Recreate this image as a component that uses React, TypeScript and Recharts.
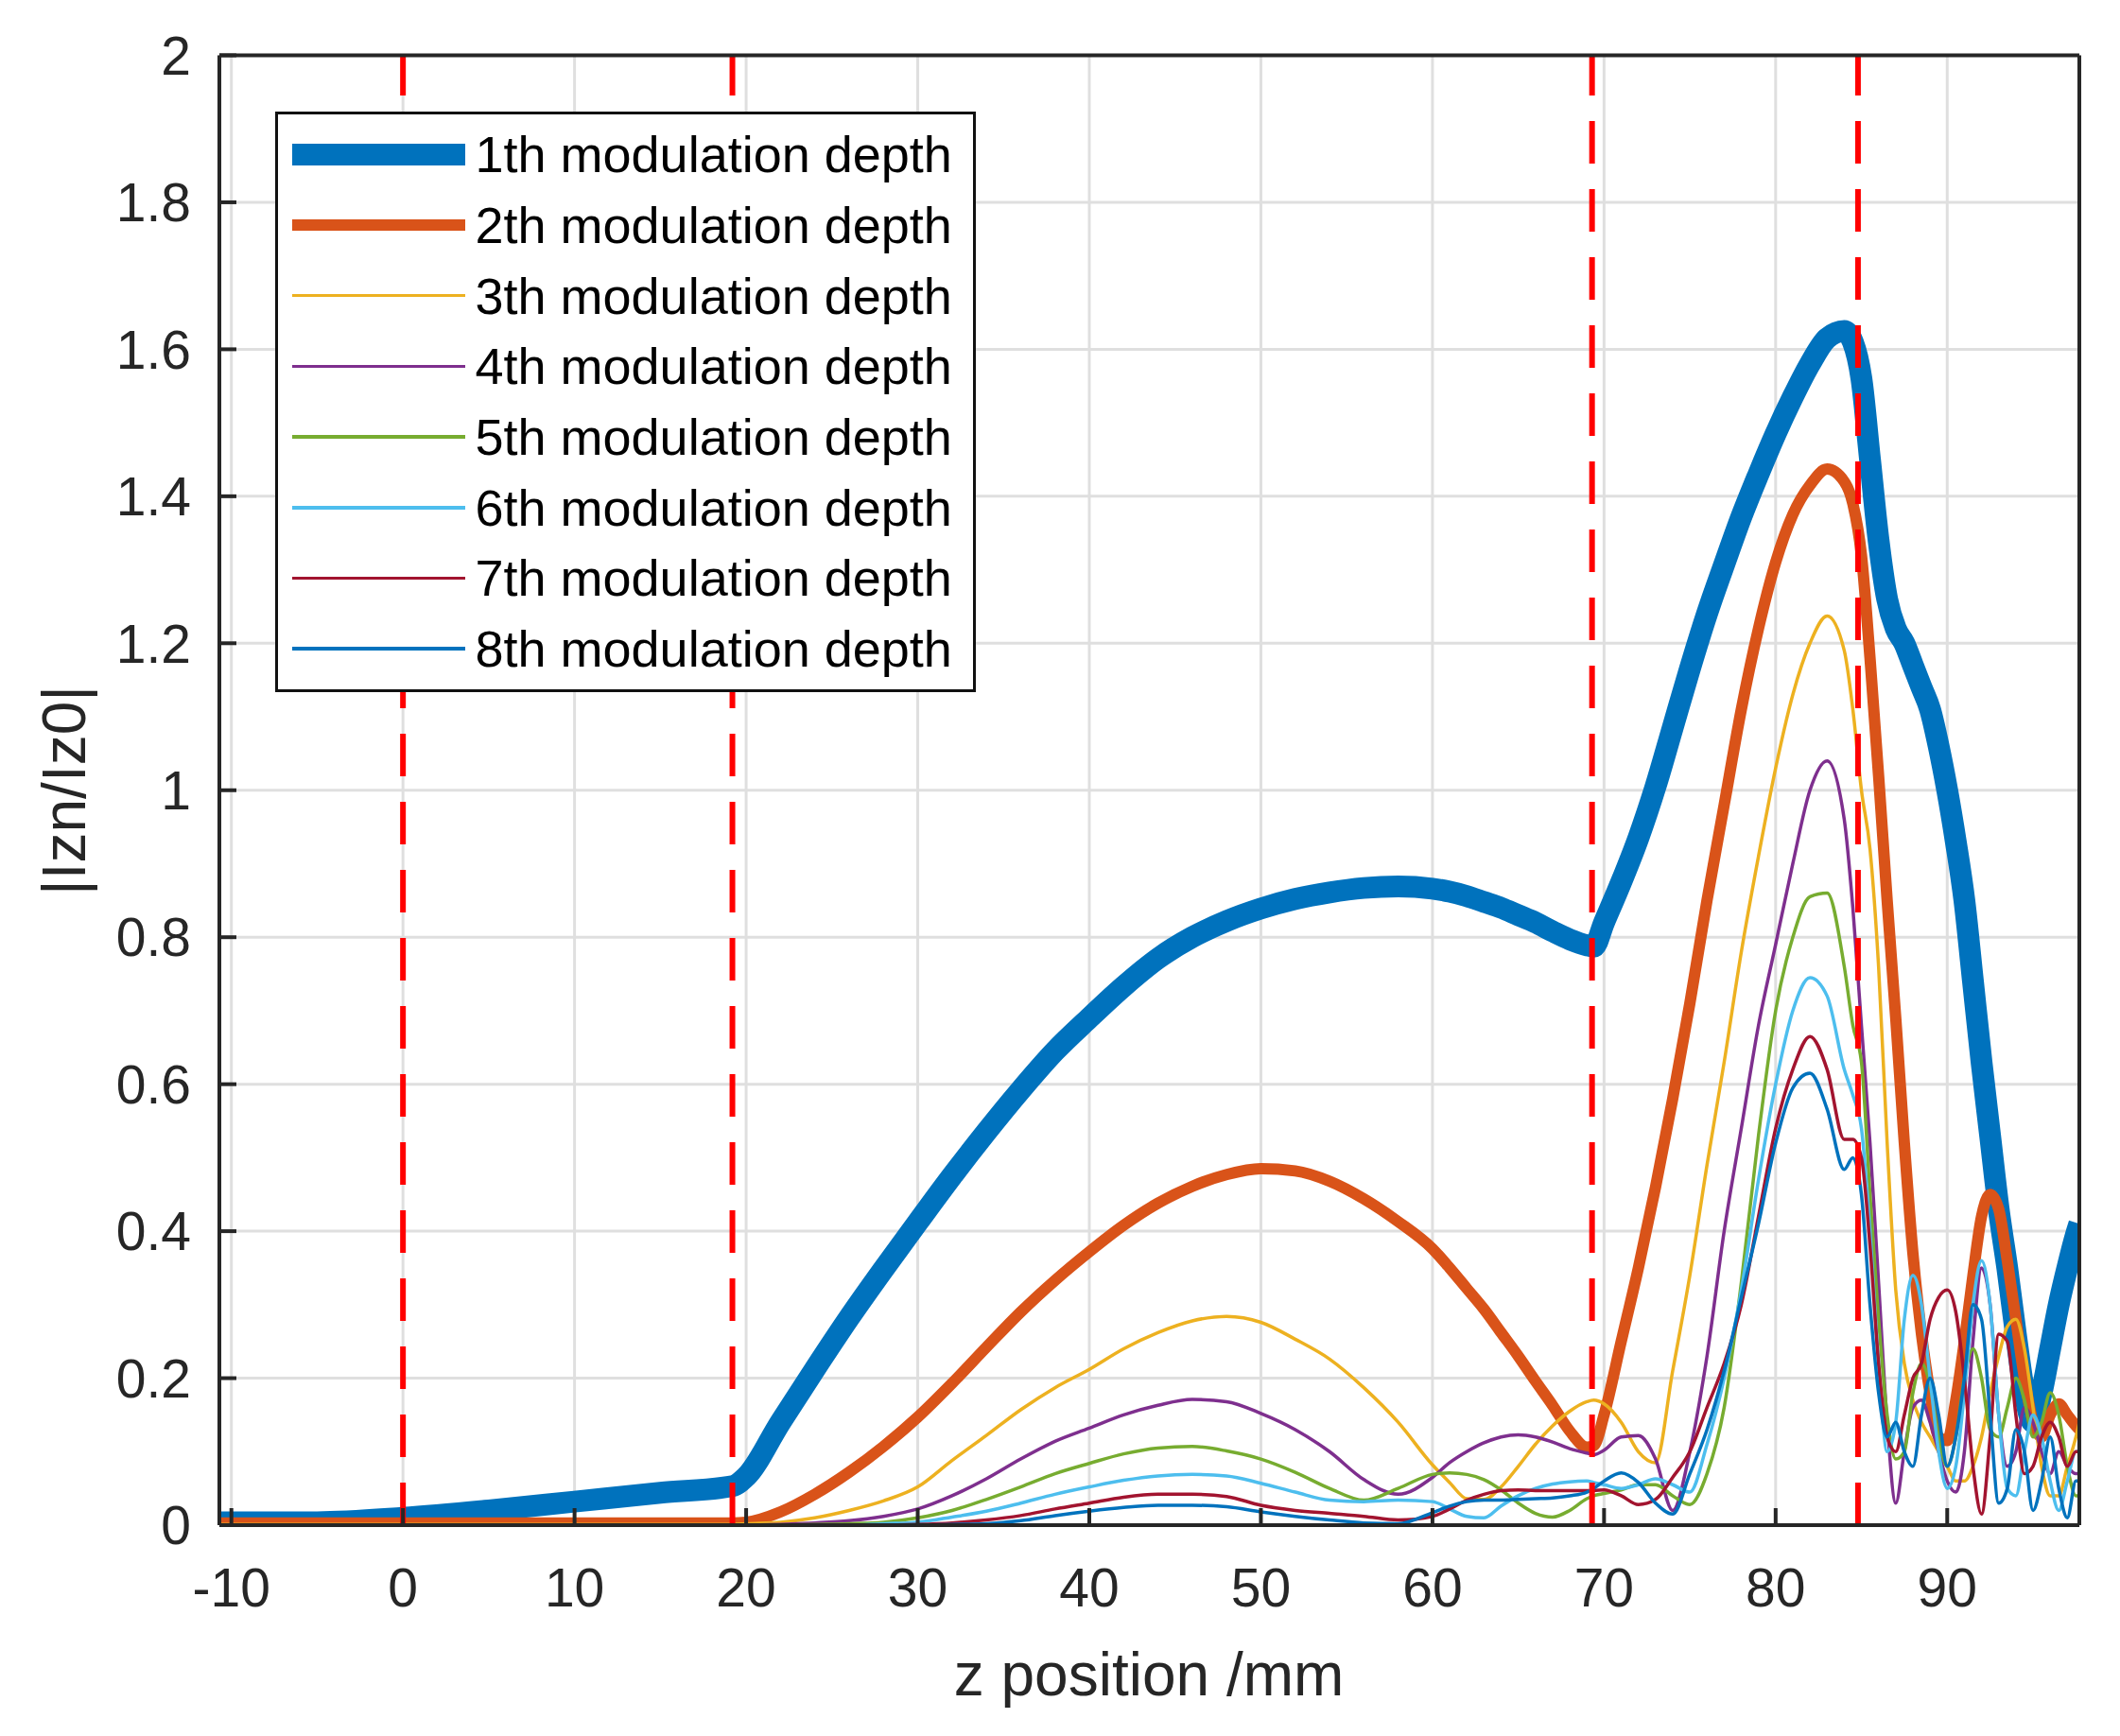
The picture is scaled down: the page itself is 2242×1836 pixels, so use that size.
import { LineChart, Line, XAxis, YAxis, CartesianGrid, ReferenceLine, Legend } from "recharts"

const FONT = "'Liberation Sans', Arial, Helvetica, sans-serif"

const zPositions = [
  -10.7, -5, 0, 5, 10, 15, 19.2,
  20, 22, 24, 26, 28, 30, 32, 34, 36, 38, 40, 42, 44, 46, 48, 50, 52, 54, 56, 58, 60,
  61, 62, 63, 64, 65, 66, 67, 68, 69,
  69.4,
  70, 71, 72, 73, 74, 75, 76, 77, 78, 79, 80, 81, 82, 83, 84,
  84.5,
  85, 85.5, 86, 86.5, 87, 87.5, 88, 88.5, 89, 89.5, 90, 90.5, 91, 91.5, 92, 92.5, 93, 93.5, 94, 94.5, 95, 95.5, 96, 96.5, 97, 97.5,
  97.7,
]

const depth1 = [
  0.004, 0.004, 0.01, 0.02, 0.032, 0.044, 0.053,
  0.066, 0.14, 0.212, 0.282, 0.348, 0.412, 0.475, 0.535, 0.592, 0.645, 0.69, 0.733, 0.771, 0.8, 0.822, 0.839, 0.852, 0.861, 0.867, 0.869, 0.866,
  0.862, 0.856, 0.848, 0.84, 0.83, 0.82, 0.808, 0.797, 0.789,
  0.787,
  0.82, 0.875, 0.935, 1.005, 1.085, 1.165, 1.24, 1.307, 1.372, 1.43, 1.485, 1.535, 1.58, 1.615, 1.625,
  1.61,
  1.56, 1.45, 1.34, 1.26, 1.22, 1.2, 1.17, 1.14, 1.11, 1.06, 1.0, 0.93, 0.85, 0.74, 0.63, 0.53, 0.43, 0.35, 0.26, 0.18, 0.14, 0.18, 0.24, 0.3, 0.35, 0.395,
  0.41,
]

const depth2 = [
  0.003, 0.003, 0.003, 0.003, 0.003, 0.003, 0.003,
  0.004, 0.018, 0.042, 0.072, 0.107, 0.147, 0.193, 0.242, 0.29, 0.333, 0.372, 0.408, 0.438, 0.461, 0.477, 0.485, 0.482, 0.468, 0.444, 0.413, 0.376,
  0.35, 0.322, 0.294, 0.262, 0.23, 0.196, 0.163, 0.128, 0.106,
  0.108,
  0.15, 0.25, 0.35, 0.46, 0.58, 0.71, 0.85, 0.98, 1.11, 1.22, 1.31, 1.375, 1.415, 1.437, 1.42,
  1.39,
  1.32, 1.18, 1.02, 0.85, 0.69, 0.52, 0.37, 0.26, 0.18, 0.12, 0.115, 0.17, 0.25, 0.34, 0.42, 0.45, 0.43, 0.36, 0.28, 0.2, 0.14, 0.12, 0.15, 0.165, 0.15, 0.135,
  0.13,
]

const depth3 = [
  0.001, 0.001, 0.001, 0.001, 0.001, 0.001, 0.001,
  0.002, 0.004, 0.01, 0.02, 0.033, 0.052, 0.088, 0.122, 0.157, 0.187, 0.212, 0.24, 0.262, 0.278, 0.284, 0.276, 0.253, 0.226, 0.187, 0.14, 0.082,
  0.058, 0.036, 0.035, 0.052, 0.08, 0.11, 0.135, 0.155, 0.168,
  0.17,
  0.165, 0.14, 0.1, 0.085, 0.21, 0.34, 0.49, 0.63, 0.78, 0.91, 1.03, 1.13, 1.2, 1.237, 1.19,
  1.11,
  1.0, 0.92, 0.76, 0.52, 0.32, 0.22, 0.17, 0.14, 0.12, 0.1, 0.08, 0.06, 0.06, 0.08, 0.12, 0.18, 0.23, 0.27, 0.28, 0.24, 0.16, 0.08, 0.04, 0.04, 0.08, 0.12,
  0.14,
]

const depth4 = [
  0, 0, 0, 0, 0, 0, 0,
  0, 0.001, 0.003, 0.006, 0.012, 0.022, 0.04, 0.063, 0.09, 0.114, 0.132, 0.15, 0.163, 0.171, 0.168, 0.152, 0.13, 0.1, 0.062, 0.042, 0.065,
  0.085, 0.1, 0.112, 0.12, 0.123, 0.12, 0.113, 0.104, 0.098,
  0.096,
  0.102, 0.12, 0.122, 0.09, 0.02, 0.1, 0.23, 0.4, 0.54, 0.68, 0.79, 0.9, 1.0, 1.04, 0.96,
  0.84,
  0.68, 0.52, 0.33, 0.14, 0.03, 0.1, 0.16, 0.17, 0.14, 0.1, 0.06, 0.045, 0.1, 0.25, 0.35, 0.3, 0.15, 0.08, 0.1, 0.16, 0.14, 0.1, 0.07, 0.1, 0.08, 0.07,
  0.07,
]

const depth5 = [
  0, 0, 0, 0, 0, 0, 0,
  0, 0, 0.001, 0.002, 0.004, 0.01, 0.02, 0.035, 0.052, 0.07, 0.084, 0.097, 0.105, 0.107, 0.101, 0.09, 0.072, 0.05, 0.034, 0.05, 0.069,
  0.071, 0.069, 0.062, 0.048, 0.03, 0.016, 0.011, 0.02, 0.036,
  0.04,
  0.043, 0.048, 0.055, 0.055, 0.04, 0.028, 0.07, 0.16, 0.33, 0.53, 0.7, 0.8, 0.855, 0.86, 0.76,
  0.68,
  0.63, 0.45, 0.28, 0.15, 0.09, 0.1, 0.18, 0.22, 0.19, 0.12, 0.08, 0.12, 0.2, 0.24, 0.2, 0.13, 0.12, 0.16, 0.2, 0.17, 0.12, 0.14, 0.18, 0.15, 0.08, 0.04,
  0.04,
]

const depth6 = [
  0, 0, 0, 0, 0, 0, 0,
  0, 0, 0, 0, 0.002, 0.004, 0.011, 0.019, 0.03, 0.042, 0.052, 0.061, 0.067, 0.069, 0.067, 0.057, 0.045, 0.034, 0.032, 0.034, 0.032,
  0.022, 0.012, 0.01, 0.026, 0.04, 0.05, 0.056, 0.059, 0.06,
  0.058,
  0.055, 0.05, 0.055, 0.063, 0.055, 0.045, 0.11, 0.2, 0.32, 0.47, 0.6, 0.7, 0.745, 0.72, 0.62,
  0.585,
  0.54, 0.4, 0.22, 0.1, 0.14, 0.28, 0.34, 0.3, 0.2, 0.1, 0.05, 0.08, 0.18, 0.3, 0.36, 0.3, 0.15, 0.05, 0.04, 0.1, 0.15, 0.12, 0.06, 0.02, 0.06, 0.1,
  0.1,
]

const depth7 = [
  0, 0, 0, 0, 0, 0, 0,
  0, 0, 0, 0, 0, 0.001, 0.003, 0.007, 0.013, 0.022, 0.03, 0.038, 0.042, 0.042, 0.039, 0.027, 0.02, 0.016, 0.012, 0.007, 0.012,
  0.022, 0.034, 0.042, 0.047, 0.048, 0.047, 0.047, 0.047, 0.047,
  0.047,
  0.048, 0.04, 0.028, 0.035, 0.065, 0.1, 0.16, 0.22, 0.3, 0.42, 0.54, 0.62, 0.665, 0.62, 0.525,
  0.525,
  0.5, 0.38, 0.22, 0.12, 0.1, 0.15, 0.2, 0.22, 0.28, 0.31, 0.32, 0.29, 0.2, 0.08, 0.015, 0.12, 0.26, 0.25, 0.15, 0.07, 0.08, 0.12, 0.14, 0.12, 0.08, 0.1,
  0.1,
]

const depth8 = [
  0, 0, 0, 0, 0, 0, 0,
  0, 0, 0, 0, 0, 0, 0.001, 0.002, 0.006, 0.013, 0.019, 0.024, 0.027, 0.027, 0.025, 0.018, 0.012, 0.007, 0.003, 0.002, 0.017,
  0.026, 0.032, 0.034, 0.034, 0.035, 0.036, 0.037, 0.04, 0.045,
  0.05,
  0.06, 0.071, 0.058, 0.03, 0.015, 0.07, 0.13, 0.21, 0.31, 0.41, 0.52, 0.595, 0.615, 0.566, 0.484,
  0.5,
  0.45, 0.3, 0.18, 0.12, 0.14, 0.1, 0.08, 0.15, 0.2, 0.15, 0.08, 0.12, 0.2, 0.3, 0.28, 0.15, 0.03, 0.05, 0.13, 0.1, 0.02, 0.06, 0.12, 0.05, 0.01, 0.06,
  0.06,
]

const seriesNames = [
  "1th modulation depth",
  "2th modulation depth",
  "3th modulation depth",
  "4th modulation depth",
  "5th modulation depth",
  "6th modulation depth",
  "7th modulation depth",
  "8th modulation depth",
]
const seriesColors = ["#0072BD", "#D95319", "#EDB120", "#7E2F8E", "#77AC30", "#4DBEEE", "#A2142F", "#0072BD"]
const seriesWidths = [23, 12, 3.5, 3.5, 3.5, 3.5, 3.5, 3.5]

// red dashed section boundaries (mm)
const boundaries = [0, 19.2, 69.3, 84.8]

const xTicks = [-10, 0, 10, 20, 30, 40, 50, 60, 70, 80, 90]
const yTicks = [0, 0.2, 0.4, 0.6, 0.8, 1, 1.2, 1.4, 1.6, 1.8, 2]
const xDomain: [number, number] = [-10.7, 97.7]
const yDomain: [number, number] = [0, 2]

const depthSeries = [depth1, depth2, depth3, depth4, depth5, depth6, depth7, depth8]

const data = zPositions.map((z, i) => {
  const row: Record<string, number> = { z }
  depthSeries.forEach((values, k) => {
    row[`d${k + 1}`] = values[i]
  })
  return row
})

const axisStroke = { stroke: "#262626", strokeWidth: 4 }
const tickFont = { fill: "#262626", fontSize: 57, fontFamily: FONT }

function DepthLegend() {
  return (
    <div
      style={{
        boxSizing: "border-box",
        width: 741,
        height: 614,
        border: "3.5px solid #111",
        background: "#fff",
        padding: "5px 20px 0 14.5px",
        fontFamily: FONT,
        fontSize: 54,
        color: "#000",
      }}
    >
      {seriesNames.map((name, i) => (
        <div key={name} style={{ display: "flex", alignItems: "center", height: 74.7 }}>
          <div
            style={{
              flexShrink: 0,
              width: 183,
              height: seriesWidths[i],
              background: seriesColors[i],
              marginRight: 11,
            }}
          />
          <span style={{ whiteSpace: "nowrap" }}>{name}</span>
        </div>
      ))}
    </div>
  )
}

export default function App() {
  return (
    <div style={{ position: "absolute", left: 0, top: 0, width: 2242, height: 1836, background: "#fff", fontFamily: FONT }}>
      <LineChart width={2242} height={1836} data={data} margin={{ top: 48.5, right: 33, bottom: 123, left: 0 }}>
        <CartesianGrid stroke="#dfdfdf" strokeWidth={3} />
        <XAxis
          dataKey="z"
          type="number"
          domain={xDomain}
          ticks={xTicks}
          allowDataOverflow
          height={100}
          tickSize={-18}
          tickMargin={64}
          tick={tickFont}
          axisLine={axisStroke}
          tickLine={axisStroke}
        />
        <XAxis
          xAxisId="top"
          orientation="top"
          dataKey="z"
          type="number"
          domain={xDomain}
          ticks={xTicks}
          allowDataOverflow
          height={10}
          tickSize={-18}
          tick={false}
          axisLine={axisStroke}
          tickLine={axisStroke}
        />
        <YAxis
          type="number"
          domain={yDomain}
          ticks={yTicks}
          allowDataOverflow
          width={232}
          tickSize={-18}
          tickMargin={48}
          tick={tickFont}
          axisLine={axisStroke}
          tickLine={axisStroke}
        />
        <YAxis
          yAxisId="right"
          orientation="right"
          type="number"
          domain={yDomain}
          ticks={yTicks}
          allowDataOverflow
          width={10}
          tickSize={-18}
          tick={false}
          axisLine={axisStroke}
          tickLine={axisStroke}
        />
        {seriesNames.map((name, i) => (
          <Line
            key={name}
            type="monotone"
            dataKey={`d${i + 1}`}
            name={name}
            stroke={seriesColors[i]}
            strokeWidth={seriesWidths[i]}
            dot={false}
            activeDot={false}
            isAnimationActive={false}
          />
        ))}
        {boundaries.map((z) => (
          <ReferenceLine key={z} x={z} stroke="#ff0000" strokeWidth={6} strokeDasharray="45 27" />
        ))}
        <Legend
          layout="vertical"
          align="center"
          verticalAlign="middle"
          content={() => <DepthLegend />}
          wrapperStyle={{ left: 291, top: 118, width: 741, height: 614 }}
        />
      </LineChart>
      <div
        style={{
          position: "absolute",
          left: 68,
          top: 836,
          transform: "translate(-50%, -50%) rotate(-90deg)",
          whiteSpace: "nowrap",
          fontSize: 64,
          lineHeight: 1,
          color: "#262626",
        }}
      >
        |Izn/Iz0|
      </div>
      <div
        style={{
          position: "absolute",
          left: 1215,
          top: 1739,
          transform: "translateX(-50%)",
          whiteSpace: "nowrap",
          fontSize: 64,
          lineHeight: 1,
          color: "#262626",
        }}
      >
        z position /mm
      </div>
    </div>
  )
}
